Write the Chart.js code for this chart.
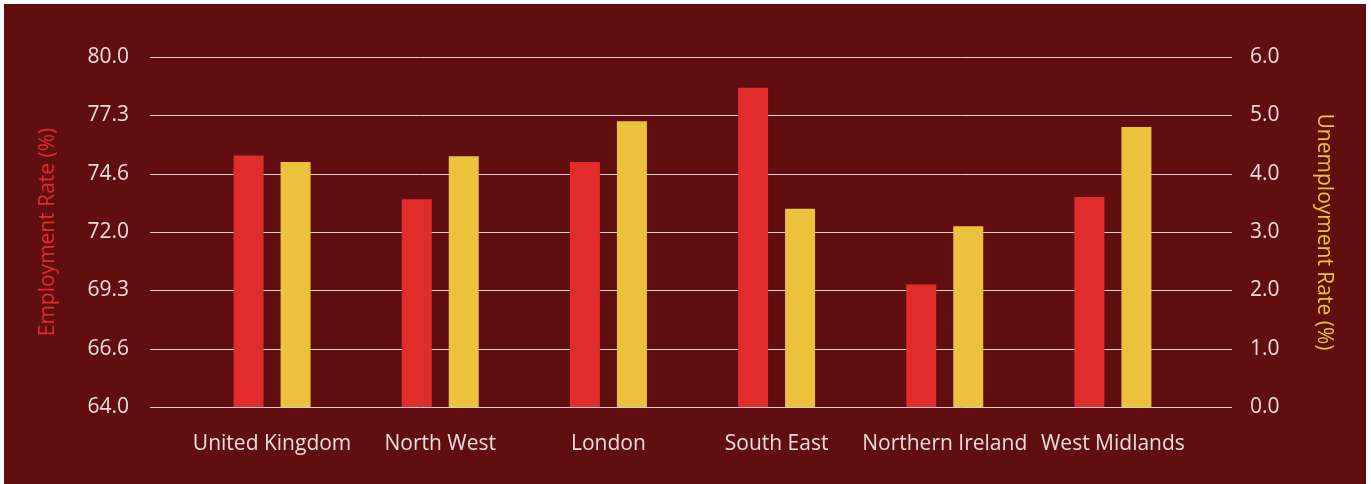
<!DOCTYPE html>
<html>
<head>
<meta charset="utf-8">
<script src="https://cdn.jsdelivr.net/npm/chart.js@4/dist/chart.umd.min.js"></script>
<style>
  html, body { margin: 0; padding: 0; background: #ffffff; }
  #frame {
    position: absolute; left: 4px; top: 4px;
    width: 1362px; height: 480px;
    background: #600e10;
  }
</style>
</head>
<body>
<div id="frame"><canvas id="chart" width="1362" height="480"></canvas></div>
<script>
const regions = ['United Kingdom', 'North West', 'London', 'South East', 'Northern Ireland', 'West Midlands'];
const employmentRate = [75.5, 73.5, 75.2, 78.6, 69.6, 73.6];
const unemploymentRate = [4.2, 4.3, 4.9, 3.4, 3.1, 4.8];
const leftTickLabels = ['64.0', '66.6', '69.3', '72.0', '74.6', '77.3', '80.0'];
const rightTickLabels = ['0.0', '1.0', '2.0', '3.0', '4.0', '5.0', '6.0'];

const FONT = "'Open Sans', 'Noto Sans', sans-serif";
const TEXT = '#ebdddd';

// horizontal grid lines run a little past the category area, like the original
const wideGrid = {
    id: 'wideGrid',
    beforeDatasetsDraw(chart) {
        const ctx = chart.ctx;
        const area = chart.chartArea;
        const y = chart.scales.y;
        ctx.save();
        ctx.strokeStyle = 'rgba(255,255,255,0.8)';
        ctx.lineWidth = 1;
        y.ticks.forEach(function(t) {
            const py = Math.round(y.getPixelForValue(t.value)) + 0.5;
            ctx.beginPath();
            ctx.moveTo(area.left - 38, py);
            ctx.lineTo(area.right + 35, py);
            ctx.stroke();
        });
        ctx.restore();
    }
};

// fixed axis sizes; drop the extra padding chart.js adds for big tick padding
function fixWidth(w) {
    return function(scale) {
        scale.width = w;
        scale.paddingTop = 0;
        scale.paddingBottom = 0;
    };
}

const ctx = document.getElementById('chart').getContext('2d');
const chart = new Chart(ctx, {
    type: 'bar',
    data: {
        labels: regions,
        datasets: [
            {
                label: 'Employment Rate (%)',
                data: employmentRate,
                backgroundColor: '#e02d2c',
                yAxisID: 'y',
                categoryPercentage: 0.559,
                barPercentage: 0.638
            },
            {
                label: 'Unemployment Rate (%)',
                data: unemploymentRate,
                backgroundColor: '#ebc23b',
                yAxisID: 'y1',
                categoryPercentage: 0.559,
                barPercentage: 0.638
            }
        ]
    },
    options: {
        responsive: false,
        animation: false,
        layout: { padding: { top: 53, bottom: 0, left: 31, right: 29 } },
        plugins: {
            legend: { display: false },
            tooltip: { enabled: false }
        },
        scales: {
            x: {
                grid: { display: false, drawTicks: false },
                border: { display: false },
                afterFit: function(scale) {
                    scale.height = 77;
                    scale.paddingLeft = 0;
                    scale.paddingRight = 0;
                },
                ticks: {
                    color: TEXT,
                    padding: 24,
                    maxRotation: 0,
                    autoSkip: false,
                    font: { family: FONT, size: 21 }
                }
            },
            y: {
                position: 'left',
                min: 64,
                max: 80,
                grid: { display: false, drawTicks: false },
                border: { display: false },
                afterFit: fixWidth(153),
                ticks: {
                    count: 7,
                    color: TEXT,
                    padding: 59,
                    font: { family: FONT, size: 21 },
                    callback: function(value, index) { return leftTickLabels[index]; }
                },
                title: {
                    display: true,
                    text: 'Employment Rate (%)',
                    color: '#e02d2c',
                    padding: { top: 0, bottom: 10 },
                    font: { family: FONT, size: 21 }
                }
            },
            y1: {
                position: 'right',
                min: 0,
                max: 6,
                grid: { display: false, drawTicks: false },
                border: { display: false },
                afterFit: fixWidth(140),
                ticks: {
                    stepSize: 1,
                    color: TEXT,
                    padding: 53,
                    font: { family: FONT, size: 21 },
                    callback: function(value, index) { return rightTickLabels[index]; }
                },
                title: {
                    display: true,
                    text: 'Unemployment Rate (%)',
                    color: '#ebc23b',
                    padding: { top: 0, bottom: 10 },
                    font: { family: FONT, size: 21 }
                }
            }
        }
    },
    plugins: [wideGrid]
});
</script>
</body>
</html>
